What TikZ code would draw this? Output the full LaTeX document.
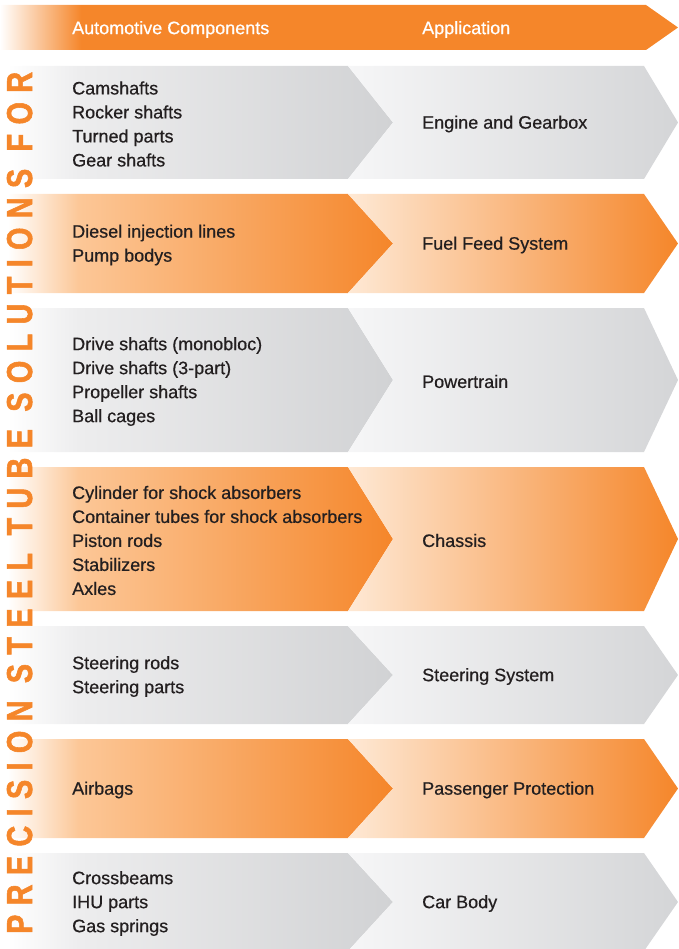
\documentclass[tikz,border=0pt]{standalone}
\usepackage{fontspec}
\setmainfont{Liberation Sans}
\newfontfamily\rowfont{Liberation Sans}[FakeBold=0.6]
\newfontfamily\sidefont{Liberation Sans Bold}[FakeStretch=0.8,LetterSpace=26,FakeBold=1.5]
\usepackage{xcolor}
\usepackage{tikz}
\usetikzlibrary{calc}

\definecolor{tubeorange}{HTML}{F5862A}
\definecolor{textdark}{HTML}{231F20}
\definecolor{compGrayLight}{HTML}{EDEDEE}
\definecolor{compGrayDark}{HTML}{D1D2D4}
\definecolor{appGrayLight}{HTML}{F6F6F7}
\definecolor{appGrayDark}{HTML}{D4D5D7}
\definecolor{compOrangeLight}{HTML}{FCC797}
\definecolor{appOrangeLight}{HTML}{FEE9D5}

% shadings (the path box is mapped onto 25bp..75bp)
\pgfdeclarehorizontalshading{headShade}{100bp}{color(0bp)=(white); color(25bp)=(white); color(31bp)=(tubeorange); color(100bp)=(tubeorange)}
\pgfdeclarehorizontalshading{compGray}{100bp}{color(0bp)=(white); color(26bp)=(white); color(35bp)=(compGrayLight); color(75bp)=(compGrayDark); color(100bp)=(compGrayDark)}
\pgfdeclarehorizontalshading{compOrange}{100bp}{color(0bp)=(white); color(26bp)=(white); color(35bp)=(compOrangeLight); color(75bp)=(tubeorange); color(100bp)=(tubeorange)}
\pgfdeclarehorizontalshading{appGray}{100bp}{color(0bp)=(appGrayLight); color(25bp)=(appGrayLight); color(75bp)=(appGrayDark); color(100bp)=(appGrayDark)}
\pgfdeclarehorizontalshading{appOrange}{100bp}{color(0bp)=(appOrangeLight); color(25bp)=(appOrangeLight); color(75bp)=(tubeorange); color(100bp)=(tubeorange)}

% row shapes: #1 top, #2 bottom, #3 shading
\newcommand\compshape[3]{\shade[shading=#3] (0,#1) -- (348,#1) -- (393,{(#1+#2)/2}) -- (348,#2) -- (0,#2) -- cycle;}
\newcommand\appshape[3]{\shade[shading=#3] (348,#1) -- (644,#1) -- (678,{(#1+#2)/2}) -- (644,#2) -- (348,#2) -- (393,{(#1+#2)/2}) -- cycle;}

\tikzstyle{comptext} = [anchor=west, inner sep=0pt, align=left, yshift=-1.5pt, text=textdark, font=\rowfont\fontsize{18}{24}\selectfont]
\tikzstyle{apptext} = [anchor=west, inner sep=0pt, align=left, yshift=-1.5pt, text=textdark, font=\rowfont\fontsize{18}{24}\selectfont]
\tikzstyle{headtext} = [anchor=west, inner sep=0pt, yshift=-2pt, text=white, font=\rowfont\fontsize{18}{24}\selectfont]
\tikzstyle{sidetitle} = [rotate=90, anchor=base west, inner sep=0pt, text=tubeorange, font={\sidefont\fontsize{36}{36}\selectfont}]

\begin{document}
\begin{tikzpicture}[x=1pt, y=-1pt]
\useasboundingbox (0,0) rectangle (679,949);
%----------------------------------------------------------------------------
% Header band
\shade[shading=headShade] (0,5) -- (646,5) -- (678,27.5) -- (646,50) -- (0,50) -- cycle;
\node (compHead) [headtext] at (72,27.5) {Automotive Components};
\node (appHead) [headtext] at (422,27.5) {Application};

%----------------------------------------------------------------------------
% Row shapes
\compshape{66}{179}{compGray}     \appshape{66}{179}{appGray}
\compshape{194}{293}{compOrange}  \appshape{194}{293}{appOrange}
\compshape{308}{452}{compGray}    \appshape{308}{452}{appGray}
\compshape{467}{611}{compOrange}  \appshape{467}{611}{appOrange}
\compshape{626}{724}{compGray}    \appshape{626}{724}{appGray}
\compshape{739}{838}{compOrange}  \appshape{739}{838}{appOrange}
\compshape{853}{951}{compGray}    \appshape{853}{951}{appGray}

%----------------------------------------------------------------------------
% Components
\node (compEngine) [comptext] at (72,122.5) {Camshafts\\Rocker shafts\\Turned parts\\Gear shafts};
\node (compFuel) [comptext] at (72,243.5) {Diesel injection lines\\Pump bodys};
\node (compPower) [comptext] at (72,380) {Drive shafts (monobloc)\\Drive shafts (3-part)\\Propeller shafts\\Ball cages};
\node (compChassis) [comptext] at (72,539) {Cylinder for shock absorbers\\Container tubes for shock absorbers\\Piston rods\\Stabilizers\\Axles};
\node (compSteering) [comptext] at (72,675) {Steering rods\\Steering parts};
\node (compProtect) [comptext] at (72,788.5) {Airbags};
\node (compBody) [comptext] at (72,902) {Crossbeams\\IHU parts\\Gas springs};

%----------------------------------------------------------------------------
% Applications
\node (appEngine) [apptext] at (422,122.5) {Engine and Gearbox};
\node (appFuel) [apptext] at (422,243.5) {Fuel Feed System};
\node (appPower) [apptext] at (422,380) {Powertrain};
\node (appChassis) [apptext] at (422,539) {Chassis};
\node (appSteering) [apptext] at (422,675) {Steering System};
\node (appProtect) [apptext] at (422,788.5) {Passenger Protection};
\node (appBody) [apptext] at (422,902) {Car Body};

%----------------------------------------------------------------------------
% Side title
\node (sideTitle) [sidetitle] at (32,934) {PRECISION STEEL TUBE SOLUTIONS FOR};
\end{tikzpicture}
\end{document}
